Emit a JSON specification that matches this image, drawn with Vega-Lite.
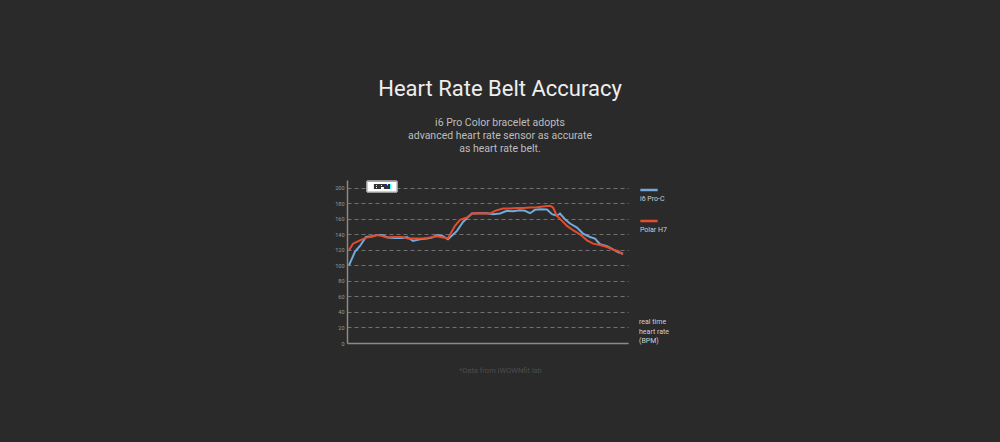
{
  "$schema": "https://vega.github.io/schema/vega-lite/v6.json",
  "autosize": "none",
  "width": 281,
  "height": 163,
  "padding": {"left": 347, "top": 180, "right": 372, "bottom": 99},
  "background": "#2a2a2b",
  "config": {"view": {"stroke": null}, "font": "Roboto"},
  "title": {
    "text": "Heart Rate Belt Accuracy",
    "subtitle": ["i6 Pro Color bracelet adopts", "advanced heart rate sensor as accurate", "as heart rate belt."],
    "anchor": "middle",
    "frame": "group",
    "dx": 12.5,
    "font": "Roboto",
    "fontSize": 22,
    "fontWeight": "normal",
    "color": "#eeeeee",
    "subtitleFont": "Roboto",
    "subtitleFontSize": 10.5,
    "subtitleColor": "#bdbdbd",
    "subtitleLineHeight": 13.3,
    "subtitlePadding": 17,
    "offset": 24
  },
  "resolve": {"axis": {"x": "independent", "y": "independent"}},
  "data": {"values": [
    {"t": 2, "bpm": 100, "device": "i6 Pro-C"},
    {"t": 8, "bpm": 117.7, "device": "i6 Pro-C"},
    {"t": 13, "bpm": 125, "device": "i6 Pro-C"},
    {"t": 19, "bpm": 136.6, "device": "i6 Pro-C"},
    {"t": 25, "bpm": 137.5, "device": "i6 Pro-C"},
    {"t": 30, "bpm": 139, "device": "i6 Pro-C"},
    {"t": 35, "bpm": 139, "device": "i6 Pro-C"},
    {"t": 41, "bpm": 135.8, "device": "i6 Pro-C"},
    {"t": 48, "bpm": 135.3, "device": "i6 Pro-C"},
    {"t": 55, "bpm": 135.3, "device": "i6 Pro-C"},
    {"t": 60, "bpm": 136.6, "device": "i6 Pro-C"},
    {"t": 66, "bpm": 131.5, "device": "i6 Pro-C"},
    {"t": 73, "bpm": 133.6, "device": "i6 Pro-C"},
    {"t": 80, "bpm": 134.5, "device": "i6 Pro-C"},
    {"t": 85, "bpm": 135.8, "device": "i6 Pro-C"},
    {"t": 90, "bpm": 139, "device": "i6 Pro-C"},
    {"t": 96, "bpm": 137.5, "device": "i6 Pro-C"},
    {"t": 101, "bpm": 133.6, "device": "i6 Pro-C"},
    {"t": 110, "bpm": 144.4, "device": "i6 Pro-C"},
    {"t": 116, "bpm": 156, "device": "i6 Pro-C"},
    {"t": 125, "bpm": 166.8, "device": "i6 Pro-C"},
    {"t": 131, "bpm": 167.2, "device": "i6 Pro-C"},
    {"t": 140, "bpm": 167.2, "device": "i6 Pro-C"},
    {"t": 146, "bpm": 166, "device": "i6 Pro-C"},
    {"t": 153, "bpm": 166.8, "device": "i6 Pro-C"},
    {"t": 160, "bpm": 170.3, "device": "i6 Pro-C"},
    {"t": 166, "bpm": 169.8, "device": "i6 Pro-C"},
    {"t": 173, "bpm": 171, "device": "i6 Pro-C"},
    {"t": 178, "bpm": 170.3, "device": "i6 Pro-C"},
    {"t": 183, "bpm": 167.2, "device": "i6 Pro-C"},
    {"t": 188, "bpm": 171.6, "device": "i6 Pro-C"},
    {"t": 193, "bpm": 172.4, "device": "i6 Pro-C"},
    {"t": 200, "bpm": 172, "device": "i6 Pro-C"},
    {"t": 205, "bpm": 166, "device": "i6 Pro-C"},
    {"t": 210, "bpm": 164, "device": "i6 Pro-C"},
    {"t": 213, "bpm": 166.8, "device": "i6 Pro-C"},
    {"t": 218, "bpm": 159.5, "device": "i6 Pro-C"},
    {"t": 223, "bpm": 153.9, "device": "i6 Pro-C"},
    {"t": 230, "bpm": 148.7, "device": "i6 Pro-C"},
    {"t": 236, "bpm": 141, "device": "i6 Pro-C"},
    {"t": 243, "bpm": 136.6, "device": "i6 Pro-C"},
    {"t": 248, "bpm": 134.5, "device": "i6 Pro-C"},
    {"t": 253, "bpm": 127.2, "device": "i6 Pro-C"},
    {"t": 260, "bpm": 124.6, "device": "i6 Pro-C"},
    {"t": 266, "bpm": 120.7, "device": "i6 Pro-C"},
    {"t": 271, "bpm": 117.2, "device": "i6 Pro-C"},
    {"t": 276, "bpm": 115, "device": "i6 Pro-C"},
    {"t": 2, "bpm": 119.4, "device": "Polar H7"},
    {"t": 6, "bpm": 128, "device": "Polar H7"},
    {"t": 13, "bpm": 132.3, "device": "Polar H7"},
    {"t": 19, "bpm": 135.8, "device": "Polar H7"},
    {"t": 25, "bpm": 137, "device": "Polar H7"},
    {"t": 30, "bpm": 139, "device": "Polar H7"},
    {"t": 35, "bpm": 137.9, "device": "Polar H7"},
    {"t": 40, "bpm": 135.8, "device": "Polar H7"},
    {"t": 46, "bpm": 136.6, "device": "Polar H7"},
    {"t": 55, "bpm": 136.6, "device": "Polar H7"},
    {"t": 61, "bpm": 134.5, "device": "Polar H7"},
    {"t": 68, "bpm": 134.5, "device": "Polar H7"},
    {"t": 76, "bpm": 134.5, "device": "Polar H7"},
    {"t": 83, "bpm": 135.8, "device": "Polar H7"},
    {"t": 90, "bpm": 137.5, "device": "Polar H7"},
    {"t": 96, "bpm": 135.8, "device": "Polar H7"},
    {"t": 101, "bpm": 135, "device": "Polar H7"},
    {"t": 108, "bpm": 150.9, "device": "Polar H7"},
    {"t": 113, "bpm": 158.6, "device": "Polar H7"},
    {"t": 120, "bpm": 161.6, "device": "Polar H7"},
    {"t": 125, "bpm": 166.8, "device": "Polar H7"},
    {"t": 131, "bpm": 167.2, "device": "Polar H7"},
    {"t": 138, "bpm": 166.8, "device": "Polar H7"},
    {"t": 143, "bpm": 166.8, "device": "Polar H7"},
    {"t": 148, "bpm": 170.3, "device": "Polar H7"},
    {"t": 156, "bpm": 173.3, "device": "Polar H7"},
    {"t": 163, "bpm": 173.3, "device": "Polar H7"},
    {"t": 170, "bpm": 174, "device": "Polar H7"},
    {"t": 176, "bpm": 174, "device": "Polar H7"},
    {"t": 183, "bpm": 174.6, "device": "Polar H7"},
    {"t": 190, "bpm": 175, "device": "Polar H7"},
    {"t": 196, "bpm": 175.9, "device": "Polar H7"},
    {"t": 203, "bpm": 176.7, "device": "Polar H7"},
    {"t": 206, "bpm": 174.6, "device": "Polar H7"},
    {"t": 210, "bpm": 163.8, "device": "Polar H7"},
    {"t": 215, "bpm": 157.3, "device": "Polar H7"},
    {"t": 220, "bpm": 150.9, "device": "Polar H7"},
    {"t": 226, "bpm": 145.3, "device": "Polar H7"},
    {"t": 233, "bpm": 140, "device": "Polar H7"},
    {"t": 240, "bpm": 132.3, "device": "Polar H7"},
    {"t": 246, "bpm": 128, "device": "Polar H7"},
    {"t": 253, "bpm": 126.3, "device": "Polar H7"},
    {"t": 260, "bpm": 123.7, "device": "Polar H7"},
    {"t": 266, "bpm": 120.3, "device": "Polar H7"},
    {"t": 271, "bpm": 118.5, "device": "Polar H7"},
    {"t": 276, "bpm": 114, "device": "Polar H7"}
  ]},
  "layer": [
    {
      "mark": {"type": "line", "strokeWidth": 2, "interpolate": "linear"},
      "encoding": {
        "x": {
          "field": "t", "type": "quantitative",
          "scale": {"domain": [0, 281], "nice": false, "zero": false},
          "axis": {
            "labels": false, "ticks": false, "grid": false,
            "domainColor": "#8a8a8a", "domainWidth": 1.5,
            "title": "*Data from iWOWNfit lab",
            "titleFont": "Roboto", "titleFontSize": 7.5, "titleFontWeight": "normal",
            "titleColor": "#4c4c4d",
            "titleX": 153, "titleY": 27, "titleAlign": "center", "titleBaseline": "middle"
          }
        },
        "y": {
          "field": "bpm", "type": "quantitative",
          "scale": {"domain": [0, 210], "nice": false, "zero": true},
          "axis": {
            "values": [0, 20, 40, 60, 80, 100, 120, 140, 160, 180, 200],
            "title": null,
            "ticks": false,
            "labelFont": "Roboto", "labelFontSize": 5.5, "labelColor": "#9a9a9a",
            "labelPadding": 3,
            "domainColor": "#8a8a8a", "domainWidth": 1.5,
            "grid": true, "gridColor": "#707070", "gridDash": [4, 3], "gridWidth": 1
          }
        },
        "color": {
          "field": "device", "type": "nominal",
          "scale": {"domain": ["i6 Pro-C", "Polar H7"], "range": ["#72aadb", "#e44c2c"]},
          "legend": {
            "title": ["real time", "heart rate", "(BPM)"],
            "titleOrient": "bottom",
            "titleFont": "Roboto", "titleFontSize": 7, "titleFontWeight": "normal",
            "titleColor": "#d0d0d0", "titleLineHeight": 9.5, "titlePadding": 76,
            "symbolType": "stroke", "symbolSize": 300, "symbolStrokeWidth": 2.5,
            "labelFont": "Roboto", "labelFontSize": 7, "labelColor": "#d0d0d0",
            "labelExpr": "['', '', datum.label]", "labelBaseline": "middle",
            "labelOffset": -19, "rowPadding": 0,
            "offset": 11, "padding": 0
          }
        }
      }
    },
    {
      "mark": {"type": "rect", "fill": "#ffffff", "stroke": "#9a9a9a", "strokeWidth": 1},
      "encoding": {
        "x": {"datum": 20, "type": "quantitative", "axis": null},
        "x2": {"datum": 50},
        "y": {"datum": 208.3, "type": "quantitative", "axis": null},
        "y2": {"datum": 194.5}
      }
    },
    {
      "mark": {"type": "text", "text": "BPM", "font": "Liberation Sans", "fontSize": 7.5, "fill": "#333333", "align": "center", "baseline": "middle"},
      "encoding": {
        "x": {"datum": 35, "type": "quantitative", "axis": null},
        "y": {"datum": 201.4, "type": "quantitative", "axis": null}
      }
    }
  ]
}
